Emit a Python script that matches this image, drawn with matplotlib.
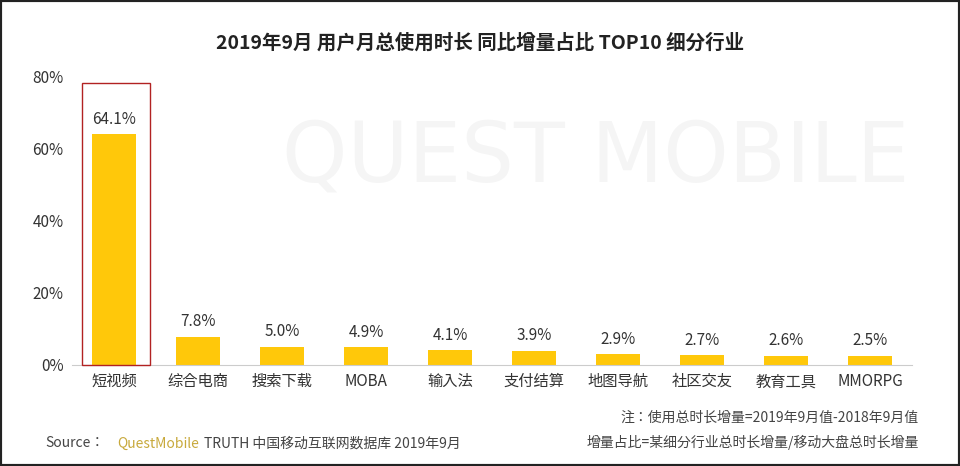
import matplotlib.pyplot as plt
from matplotlib.patches import Rectangle

plt.rcParams['font.family'] = ['Noto Sans CJK JP', 'Noto Sans CJK SC', 'DejaVu Sans']

categories = ['短视频', '综合电商', '搜索下载', 'MOBA', '输入法', '支付结算', '地图导航', '社区交友', '教育工具', 'MMORPG']
values = [64.1, 7.8, 5.0, 4.9, 4.1, 3.9, 2.9, 2.7, 2.6, 2.5]
yticks = [0, 20, 40, 60, 80]

fig = plt.figure(figsize=(9.6, 4.66), dpi=100)
ax = fig.add_axes([0.075, 0.217, 0.875, 0.618])
x = range(len(categories))
ax.bar(x, values, width=0.52, color='#FFC80A', zorder=2)
for i, v in enumerate(values):
    ax.text(i, v + 1.8, '%.1f%%' % v, ha='center', va='bottom', fontsize=11, color='#333333')

# highlight box around the first bar
ax.add_patch(Rectangle((-0.38, 0), 0.81, 78.3, fill=False, edgecolor='#B22222', lw=1, zorder=3, clip_on=False))

ax.set_xlim(-0.5, 9.5)
ax.set_ylim(0, 80)
ax.set_yticks(yticks)
ax.set_yticklabels(['%d%%' % t for t in yticks], fontsize=11, color='#333333')
ax.set_xticks(list(x))
ax.set_xticklabels(categories, fontsize=11, color='#333333')
ax.tick_params(length=0, pad=6)
for s in ['top', 'right', 'left']:
    ax.spines[s].set_visible(False)
ax.spines['bottom'].set_color('#cccccc')

# watermark
fig.text(0.62, 0.66, 'QUEST MOBILE', fontsize=60, color='#000000', alpha=0.04,
         ha='center', va='center', fontfamily='DejaVu Sans')

fig.text(0.5, 0.895, '2019年9月 用户月总使用时长 同比增量占比 TOP10 细分行业', ha='center',
         fontsize=14, color='#222222', fontweight='bold')
fig.text(0.957, 0.095, '注：使用总时长增量=2019年9月值-2018年9月值', ha='right', fontsize=10, color='#444444')
fig.text(0.957, 0.04, '增量占比=某细分行业总时长增量/移动大盘总时长增量', ha='right', fontsize=10, color='#444444')
fig.text(0.047, 0.04, 'Source：', fontsize=10, color='#444444')
fig.text(0.122, 0.04, 'QuestMobile', fontsize=10, color='#C8A93C')
fig.text(0.213, 0.04, 'TRUTH 中国移动互联网数据库 2019年9月', fontsize=10, color='#444444')

fig.add_artist(Rectangle((0, 0), 1, 1, transform=fig.transFigure, fill=False, edgecolor='#222222', lw=3))
fig.savefig('out.png', dpi=100)
